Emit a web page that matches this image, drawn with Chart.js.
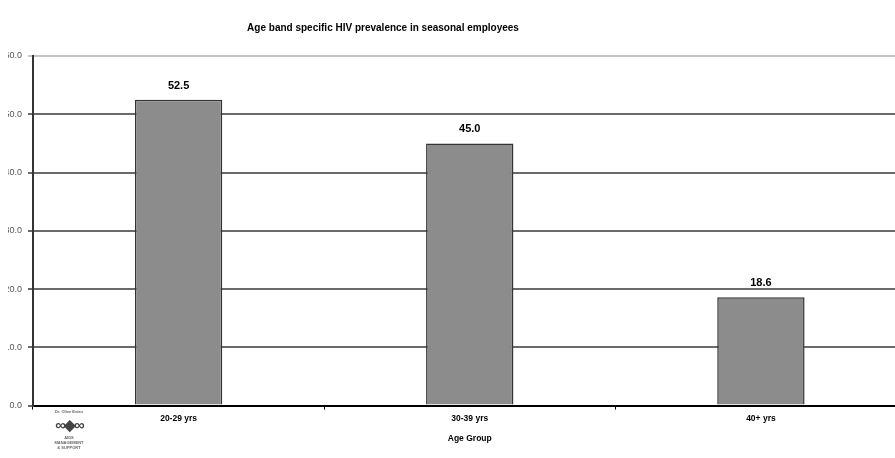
<!DOCTYPE html>
<html>
<head>
<meta charset="utf-8">
<script src="https://cdn.jsdelivr.net/npm/chart.js@4.4.0/dist/chart.umd.min.js"></script>
<style>
  html, body { margin: 0; padding: 0; background: #fff; overflow: hidden; }
  #wrap { position: relative; width: 895px; height: 458px; overflow: hidden; }
  #clip { position: absolute; left: 8px; top: 0; width: 887px; height: 458px; overflow: hidden; }
  #clip canvas { position: absolute; left: -17px; top: 0; }
  #logo { position: absolute; left: 38px; top: 409px; width: 62px; text-align: center;
          font: bold 4px "Liberation Sans", Arial, sans-serif; color: #666; line-height: 5px; }
  #logo .sym { display: block; font-size: 15px; line-height: 20px; color: #444; letter-spacing: -2px; margin-top: 1px; }
</style>
</head>
<body>
<div id="wrap">
  <div id="clip"><canvas id="hivChart" width="920" height="458"></canvas></div>
  <div id="logo">Dr. Olive Evian<span class="sym">&#8734;&#9670;&#8734;</span>AIDS<br>MANAGEMENT<br>&amp; SUPPORT</div>
</div>
<script>
const categories = ['20-29 yrs', '30-39 yrs', '40+ yrs'];
const prevalence = [52.5, 45.0, 18.6];
const yTicks = [0, 10, 20, 30, 40, 50, 60];
const chartTitle = 'Age band specific HIV prevalence in seasonal employees';

const FONT = '"Liberation Sans", Arial, sans-serif';

// value labels above bars + title placed off-centre like the original
const extras = {
  id: 'extras',
  afterDatasetsDraw(chart) {
    const c = chart.ctx;
    const meta = chart.getDatasetMeta(0);
    c.save();
    c.font = 'bold 11px ' + FONT;
    c.fillStyle = '#000';
    c.textAlign = 'center';
    c.textBaseline = 'middle';
    meta.data.forEach((bar, i) => {
      c.fillText(prevalence[i].toFixed(1), bar.x, bar.y - 14);
    });
    c.font = 'bold 10px ' + FONT;
    c.fillText(chartTitle, 392, 28);
    c.restore();
  }
};

const ctx = document.getElementById('hivChart').getContext('2d');
new Chart(ctx, {
  type: 'bar',
  data: {
    labels: categories,
    datasets: [{
      data: prevalence,
      backgroundColor: '#8c8c8c',
      borderColor: '#333',
      borderWidth: 1.5,
      barPercentage: 0.3,
      categoryPercentage: 1.0
    }]
  },
  options: {
    responsive: false,
    animation: false,
    layout: { padding: { left: 0, right: 4.5, top: 56, bottom: 14 } },
    plugins: {
      legend: { display: false },
      tooltip: { enabled: false },
      title: { display: false }
    },
    scales: {
      x: {
        offset: true,
        grid: { offset: true, drawOnChartArea: false, drawTicks: true, tickLength: 4, color: '#000' },
        border: { color: '#000', width: 2 },
        ticks: { color: '#000', font: { family: FONT, size: 8.5, weight: 'bold' }, padding: 4 },
        title: { display: true, text: 'Age Group', color: '#000', font: { family: FONT, size: 8.5, weight: 'bold' }, padding: { top: 6, bottom: 0 } }
      },
      y: {
        min: 0,
        max: 60,
        afterBuildTicks(axis) { axis.ticks = yTicks.map(v => ({ value: v })); },
        grid: {
          color: c => c.tick && c.tick.value === 60 ? '#c4c4c4' : '#6a6a6a',
          lineWidth: 2,
          tickLength: 5
        },
        border: { color: '#333', width: 2 },
        ticks: {
          color: '#555',
          font: { family: FONT, size: 9 },
          padding: 6,
          callback: v => v.toFixed(1)
        },
        afterFit(axis) { axis.width = 42; }
      }
    }
  },
  plugins: [extras]
});
</script>
</body>
</html>
